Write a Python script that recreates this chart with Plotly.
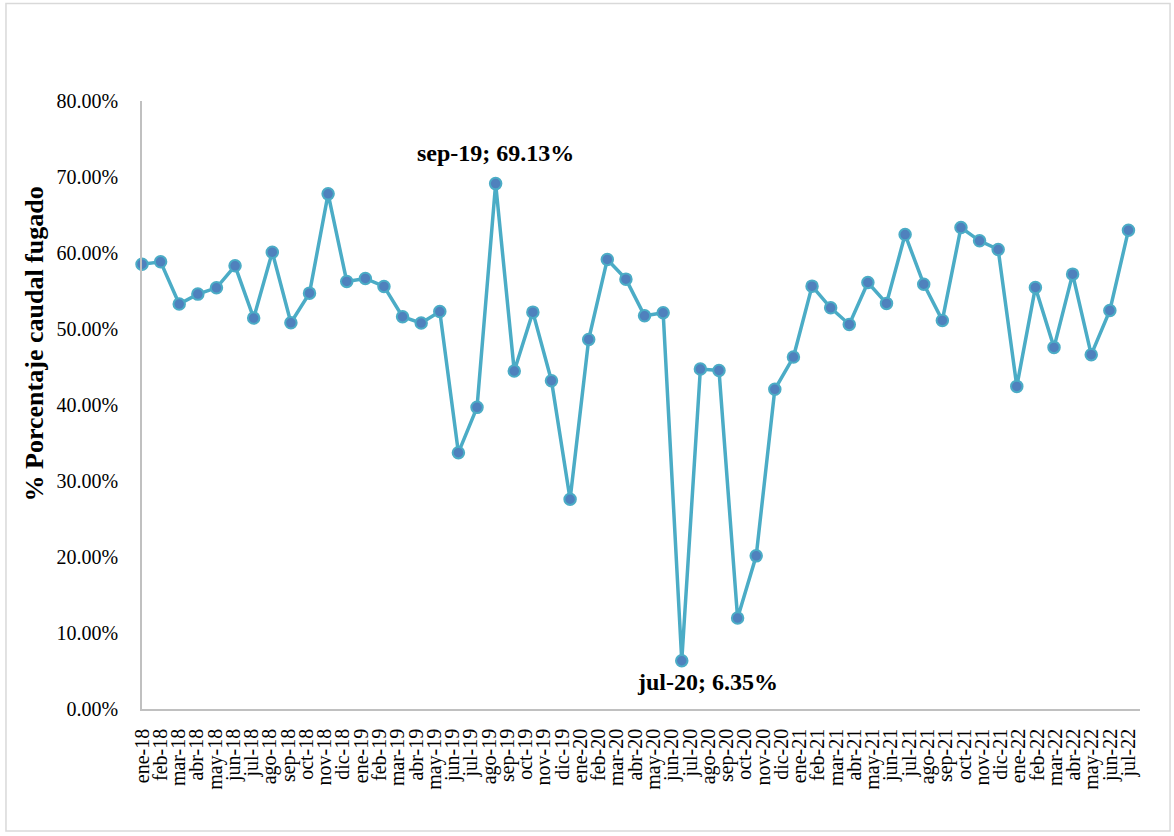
import numpy as np
import plotly.graph_objects as go

# Monthly leak share (%), feb-18 .. jul-22
meses = [
    "feb-18", "mar-18", "abr-18", "may-18", "jun-18", "jul-18", "ago-18", "sep-18", "oct-18", "nov-18", "dic-18",
    "ene-19", "feb-19", "mar-19", "abr-19", "may-19", "jun-19", "jul-19", "ago-19", "sep-19", "oct-19", "nov-19", "dic-19",
    "ene-20", "feb-20", "mar-20", "abr-20", "may-20", "jun-20", "jul-20", "ago-20", "sep-20", "oct-20", "nov-20", "dic-20",
    "ene-21", "feb-21", "mar-21", "abr-21", "may-21", "jun-21", "jul-21", "ago-21", "sep-21", "oct-21", "nov-21", "dic-21",
    "ene-22", "feb-22", "mar-22", "abr-22", "may-22", "jun-22", "jul-22",
]
porcentaje = [
    58.53, 58.84, 53.28, 54.59, 55.42, 58.31, 51.44, 60.11, 50.82, 54.72, 67.78,
    56.26, 56.65, 55.60, 51.61, 50.78, 52.29, 33.73, 39.69, 69.13, 44.47, 52.22, 43.20,
    27.60, 48.63, 59.15, 56.56, 51.74, 52.14, 6.35, 44.73, 44.55, 11.96, 20.15, 42.06,
    46.31, 55.64, 52.79, 50.60, 56.12, 53.37, 62.43, 55.90, 51.13, 63.35, 61.60, 60.46,
    42.45, 55.47, 47.58, 57.22, 46.62, 52.44, 63.00,
]

# Axis tick labels, ene-18 .. jul-22
etiquetas_x = [
    "ene-18", "feb-18", "mar-18", "abr-18", "may-18", "jun-18", "jul-18", "ago-18", "sep-18", "oct-18", "nov-18", "dic-18",
    "ene-19", "feb-19", "mar-19", "abr-19", "may-19", "jun-19", "jul-19", "ago-19", "sep-19", "oct-19", "nov-19", "dic-19",
    "ene-20", "feb-20", "mar-20", "abr-20", "may-20", "jun-20", "jul-20", "ago-20", "sep-20", "oct-20", "nov-20", "dic-20",
    "ene-21", "feb-21", "mar-21", "abr-21", "may-21", "jun-21", "jul-21", "ago-21", "sep-21", "oct-21", "nov-21", "dic-21",
    "ene-22", "feb-22", "mar-22", "abr-22", "may-22", "jun-22", "jul-22",
]
valores_y = [0, 10, 20, 30, 40, 50, 60, 70, 80]

FUENTE = "Liberation Serif"
n = len(porcentaje)
x_pos = list(range(n))
tick_pos = np.linspace(0, n - 1, len(etiquetas_x))

fig = go.Figure()
fig.add_trace(go.Scatter(
    x=x_pos,
    y=porcentaje,
    mode="lines+markers",
    line=dict(color="#4BACC6", width=3.5),
    marker=dict(size=11.5, color="#4F81BD", line=dict(color="#4BACC6", width=2)),
    cliponaxis=False,
    customdata=meses,
    hovertemplate="%{customdata}: %{y:.2f}%<extra></extra>",
    showlegend=False,
))

# Highlight the maximum and minimum
i_max = int(np.argmax(porcentaje))
i_min = int(np.argmin(porcentaje))
fig.add_annotation(
    x=i_max, y=porcentaje[i_max], xref="x", yref="y",
    text=f"{meses[i_max]}; {porcentaje[i_max]:.2f}%",
    showarrow=False, yshift=31,
    font=dict(family=FUENTE, size=24, color="#000000", weight="bold"),
)
fig.add_annotation(
    x=i_min, y=porcentaje[i_min], xref="x", yref="y",
    text=f"{meses[i_min]}; {porcentaje[i_min]:.2f}%",
    showarrow=False, yshift=-21, xshift=26,
    font=dict(family=FUENTE, size=24, color="#000000", weight="bold"),
)

# Y-axis title
fig.add_annotation(
    x=-0.108, y=0.60, xref="paper", yref="paper",
    text="% Porcentaje caudal fugado", textangle=-90,
    showarrow=False, xanchor="center", yanchor="middle",
    font=dict(family=FUENTE, size=26, color="#000000", weight="bold"),
)

# Chart frame
fig.add_shape(
    type="rect", xref="paper", yref="paper",
    x0=-0.1363, x1=1.0301, y0=-0.2007, y1=1.1604,
    line=dict(color="#D9D9D9", width=1.5), fillcolor="rgba(0,0,0,0)", layer="below",
)

fig.update_layout(
    width=1174, height=836,
    margin=dict(l=142, r=34, t=101, b=127),
    paper_bgcolor="white", plot_bgcolor="white",
    font=dict(family=FUENTE, size=20, color="#000000"),
    xaxis=dict(
        range=[0, 53.62],
        tickmode="array", tickvals=tick_pos, ticktext=etiquetas_x,
        tickangle=-90, showgrid=False, zeroline=False,
        showline=True, linecolor="#C0C0C0", linewidth=1.5,
        ticks="", ticklabelstandoff=10,
        tickfont=dict(family=FUENTE, size=20),
    ),
    yaxis=dict(
        range=[0, 80],
        tickmode="array", tickvals=valores_y,
        ticktext=[f"{v:.2f}%" for v in valores_y],
        showgrid=False, zeroline=False,
        showline=True, linecolor="#C0C0C0", linewidth=1.5,
        ticks="", ticklabelstandoff=18,
        tickfont=dict(family=FUENTE, size=20),
    ),
)

fig.write_html("out.html")
